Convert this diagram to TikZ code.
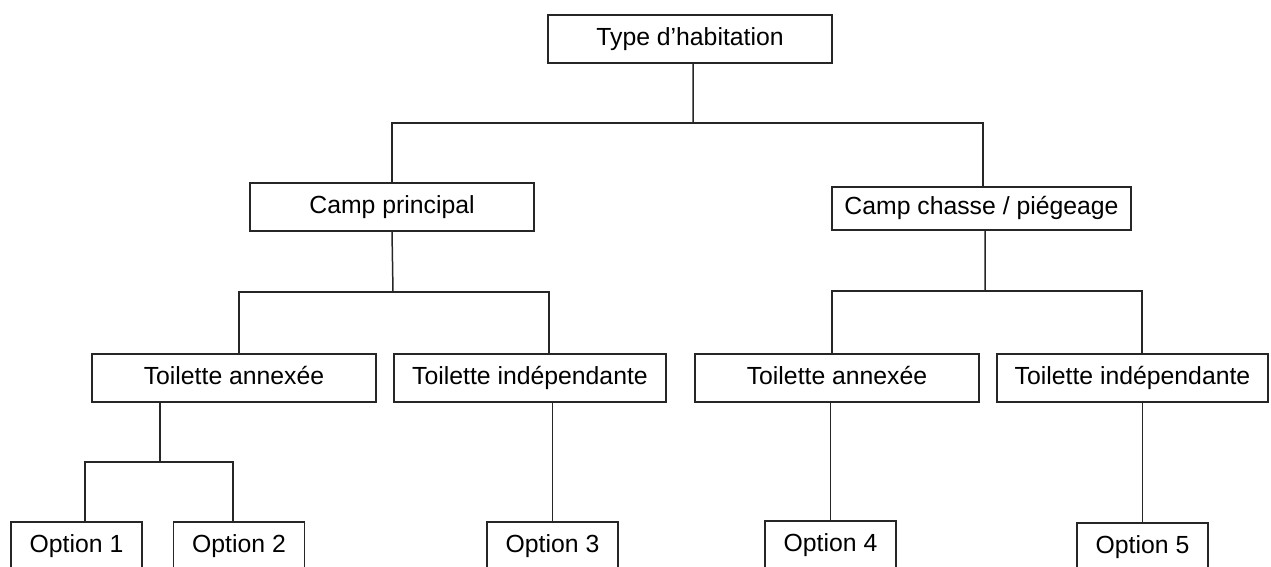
\documentclass[tikz,border=0pt]{standalone}
\usepackage{fontspec}
\setmainfont{Liberation Sans}
\usepackage{tikz}
\usetikzlibrary{calc}
\tikzset{
  boite/.style={draw=black!85, line width=0.8pt, inner sep=0pt, minimum height=0.96cm,
    text height=9.9pt, text depth=2.9pt, font=\fontsize{14.1}{17}\selectfont},
  option/.style={boite, minimum width=2.62cm},
  lien/.style={line width=0.85pt, color=black!85}
}

\begin{document}
\begin{tikzpicture}[x=0.02cm, y=-0.02cm]
		%%%%% START %%%%%
		\useasboundingbox (0, 0) rectangle (1271, 566);
		\clip (0, 0) rectangle (1271, 566);
		
		\node[boite, minimum width=5.68cm] (type) at (690, 39) {Type d’habitation};
		
		\node[boite, minimum width=5.68cm] (principal) at (392, 207) {Camp principal};
		\node[boite, minimum width=5.98cm, minimum height=0.86cm] (chasse) at (981.5, 208.5) {Camp chasse / piégeage};
		
		\node[boite, minimum width=5.68cm] (annexeA) at (234, 378) {Toilette annexée};
		\node[boite, minimum width=5.44cm] (indepA) at (530, 378) {Toilette indépendante};
		\node[boite, minimum width=5.68cm] (annexeB) at (837, 378) {Toilette annexée};
		\node[boite, minimum width=5.42cm] (indepB) at (1132.5, 378) {Toilette indépendante};
		
		\node[option] (opt1) at (76.5, 546) {Option 1};
		\node[option] (opt2) at (239, 546) {Option 2};
		\node[option] (opt3) at (552.5, 546) {Option 3};
		\node[option] (opt4) at (830.5, 545) {Option 4};
		\node[option] (opt5) at (1142.5, 547) {Option 5};
		
		% premier niveau
		\coordinate (barre0) at (693, 123);
		\draw[lien] ([xshift=0.06cm]type.south) -- (barre0);
		\draw[lien] (principal.north) |- (barre0) -| ([xshift=0.03cm]chasse.north);
		
		% camp principal
		\coordinate (barre1) at (393, 292);
		\draw[lien] (principal.south) -- (barre1);
		\draw[lien] ([xshift=0.1cm]annexeA.north) |- (barre1) -| ([xshift=0.38cm]indepA.north);
		
		% camp chasse
		\coordinate (barre2) at (985, 291);
		\draw[lien] ([xshift=0.07cm]chasse.south) -- (barre2);
		\draw[lien] ([xshift=-0.1cm]annexeB.north) |- (barre2) -| ([xshift=0.19cm]indepB.north);
		
		% options
		\coordinate (barre3) at (160, 462);
		\draw[lien] (annexeA.south -| barre3) -- (barre3);
		\draw[lien] ([xshift=0.17cm]opt1.north) |- (barre3) -| ([xshift=-0.12cm]opt2.north);
		\draw[lien] (opt3.north) -- (opt3.north |- indepA.south);
		\draw[lien] (opt4.north) -- (opt4.north |- annexeB.south);
		\draw[lien] (opt5.north) -- (opt5.north |- indepB.south);
		%%%%% END %%%%%
\end{tikzpicture}
\end{document}
